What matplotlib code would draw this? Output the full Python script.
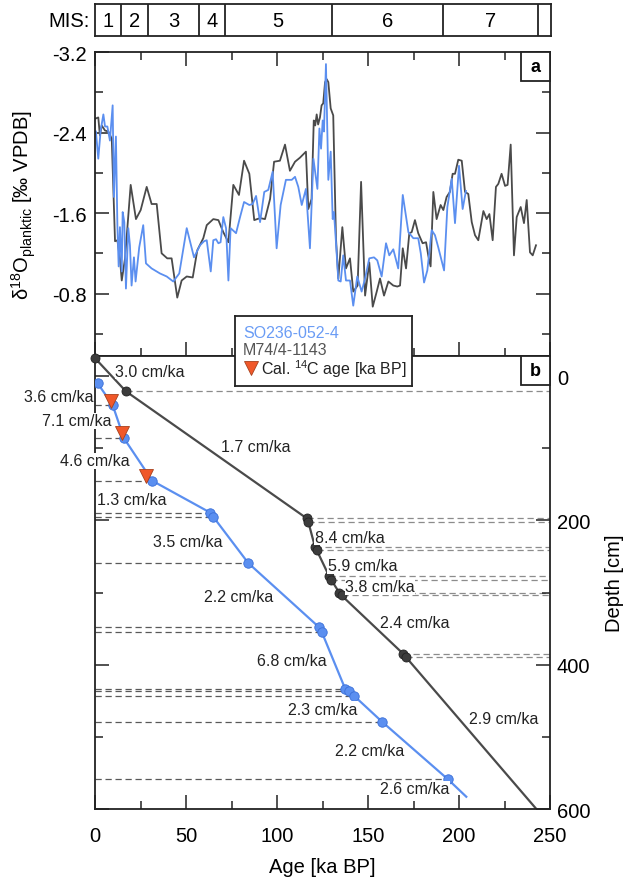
import matplotlib.pyplot as plt
from matplotlib.patches import Rectangle
from matplotlib.ticker import MultipleLocator, FixedLocator, FormatStrFormatter

plt.rcParams['font.family'] = ['Liberation Sans', 'DejaVu Sans']
plt.rcParams['mathtext.fontset'] = 'custom'
plt.rcParams['mathtext.rm'] = 'Liberation Sans'
plt.rcParams['mathtext.it'] = 'Liberation Sans:italic'
plt.rcParams['mathtext.bf'] = 'Liberation Sans:bold'
plt.rcParams['axes.unicode_minus'] = False

# --- MIS stages (boundaries in ka)
mis_bounds = [0, 14, 29, 57, 71, 130, 191, 243, 250]
mis_labels = ['1', '2', '3', '4', '5', '6', '7', '']

# --- panel a: d18O planktic records
m74_age = [0.5, 1.8, 2.7, 3.7, 5.5, 7.3, 9.2, 11.0, 12.3, 13.7, 14.7, 16.5, 19.6,
           22.5, 25.1, 28.4, 31.1, 33.9, 36.6, 39.7, 42.1, 45.2, 47.6, 50.4, 53.7,
           56.2, 59.5, 61.4, 65.0, 67.8, 70.5, 73.3, 76.0, 79.1, 81.9, 84.8, 87.5,
           90.7, 93.4, 96.2, 98.4, 101.6, 104.4, 107.1, 109.9, 112.6, 115.9, 117.2,
           119.0, 120.2, 121.0, 121.8, 122.6, 123.6, 124.5, 125.4, 126.4, 127.3,
           128.2, 129.5, 130.9, 132.4, 133.7, 135.9, 137.9, 140.1, 141.9, 144.3,
           146.2, 148.4, 150.7, 152.6, 154.8, 156.6, 158.8, 161.2, 163.9, 166.1,
           167.6, 169.1, 170.9, 172.7, 174.0, 175.8, 177.6, 180.0, 181.9, 183.1,
           184.4, 185.9, 187.7, 189.9, 191.4, 193.2, 195.0, 196.5, 197.8, 199.6,
           201.5, 203.3, 205.1, 207.0, 208.8, 210.6, 213.4, 215.2, 216.7, 218.5,
           220.3, 221.6, 223.4, 225.3, 226.7, 228.4, 230.2, 231.7, 233.9, 235.7,
           237.2, 239.0, 240.5, 242.3]
m74_d18o = [-2.54, -2.55, -2.37, -2.47, -2.42, -2.41, -2.34, -1.32, -1.33, -1.15,
            -0.93, -1.15, -1.88, -1.54, -1.63, -1.86, -1.69, -1.69, -1.20, -1.15,
            -1.15, -0.76, -0.93, -0.97, -0.96, -1.23, -1.35, -1.48, -1.54, -1.53,
            -1.41, -1.31, -1.88, -1.78, -2.12, -1.99, -1.53, -1.55, -1.54, -1.74,
            -2.11, -2.12, -2.28, -2.02, -2.11, -2.15, -2.21, -1.64, -1.74, -2.52,
            -2.47, -2.58, -2.48, -2.55, -2.67, -2.69, -2.90, -2.93, -2.90, -2.64,
            -2.57, -1.35, -0.95, -1.46, -1.05, -1.15, -0.82, -0.88, -1.91, -0.78,
            -1.11, -0.67, -0.82, -0.95, -0.78, -0.92, -0.88, -0.87, -0.88, -1.25,
            -1.05, -1.40, -1.41, -1.53, -1.40, -1.30, -1.31, -1.18, -1.07, -1.81,
            -1.54, -1.68, -1.63, -1.76, -1.81, -1.99, -1.99, -2.13, -2.12, -1.81,
            -1.79, -1.51, -1.38, -1.33, -1.62, -1.54, -1.59, -1.33, -1.86, -1.89,
            -1.99, -1.87, -1.88, -2.28, -1.18, -1.56, -1.66, -1.50, -1.73, -1.21,
            -1.18, -1.28]

so_age = [0.5, 1.8, 3.1, 4.6, 5.5, 6.8, 8.2, 9.7, 10.4, 11.5, 12.3, 13.0, 13.7,
          14.7, 15.2, 16.1, 17.0, 18.3, 19.2, 20.1, 21.4, 22.3, 24.3, 26.5, 28.0,
          31.1, 35.7, 39.4, 43.0, 46.3, 50.4, 54.4, 57.7, 59.9, 61.4, 63.6, 65.0,
          66.5, 67.8, 69.0, 70.5, 72.0, 73.3, 74.5, 77.5, 79.7, 81.9, 84.8, 86.6,
          88.5, 90.7, 93.0, 95.2, 97.6, 99.8, 102.0, 104.9, 108.1, 109.9, 111.7,
          113.6, 115.9, 118.1, 120.0, 122.2, 123.3, 124.2, 125.1, 125.8, 126.9,
          128.2, 129.5, 130.6, 131.3, 132.4, 133.7, 135.0, 136.4, 137.9, 140.1,
          141.9, 144.1, 146.5, 148.4, 150.7, 153.3, 155.1, 157.5, 159.9, 161.7,
          163.9, 166.6, 169.1, 172.2, 174.9, 177.6, 179.0, 180.8, 182.6, 185.0,
          186.8, 188.6, 191.8, 193.6, 196.0, 197.8, 200.0, 202.0, 203.8]
so_d18o = [-2.41, -2.14, -2.42, -2.58, -2.46, -2.46, -2.32, -2.67, -1.76, -2.36,
           -1.48, -1.07, -1.46, -1.02, -1.61, -1.51, -0.85, -1.45, -1.28, -0.88,
           -1.16, -0.92, -1.26, -1.48, -1.10, -1.05, -1.00, -0.97, -0.92, -1.00,
           -1.45, -1.16, -1.28, -1.32, -1.33, -1.02, -1.33, -1.34, -1.30, -1.31,
           -1.56, -1.45, -0.93, -1.45, -1.40, -1.56, -1.71, -1.68, -1.69, -1.77,
           -1.51, -1.81, -1.83, -2.01, -1.25, -1.68, -1.93, -1.93, -1.96, -1.86,
           -1.68, -1.84, -1.25, -2.14, -1.84, -2.44, -2.24, -2.52, -2.41, -3.08,
           -1.93, -2.21, -1.54, -1.61, -1.31, -0.93, -0.92, -1.18, -0.93, -0.93,
           -0.68, -0.97, -0.82, -0.95, -1.15, -1.16, -1.13, -0.97, -1.30, -1.18,
           -1.24, -1.05, -1.78, -1.41, -1.35, -1.35, -1.20, -0.91, -1.03, -1.43,
           -1.38, -1.26, -1.03, -1.66, -1.94, -1.50, -2.07, -1.64, -1.82]

# --- panel b: age-depth models
m74_tie_age = [0.0, 17.0, 116.3, 117.2, 120.9, 121.8, 128.6, 129.7, 134.2, 135.5,
               169.4, 170.7]
m74_tie_depth = [-25, 21, 197, 202, 237, 241, 277, 282, 300, 304, 385, 389]
m74_end = (242.5, 600)

so_tie_age = [1.5, 9.7, 15.9, 31.5, 63.2, 65.0, 84.2, 123.1, 124.5, 137.4, 139.6,
              142.3, 157.7, 194.0]
so_tie_depth = [10, 40, 86, 145, 189, 195, 259, 348, 354, 433, 437, 443, 479, 559]
so_end = (204.0, 583)

c14_age = [8.8, 14.8, 28.0]
c14_depth = [34, 79, 138]

rate_text = ['3.0 cm/ka', '1.7 cm/ka', '8.4 cm/ka', '5.9 cm/ka', '3.8 cm/ka',
             '2.4 cm/ka', '2.9 cm/ka',
             '3.6 cm/ka', '7.1 cm/ka', '4.6 cm/ka', '1.3 cm/ka', '3.5 cm/ka',
             '2.2 cm/ka', '6.8 cm/ka', '2.3 cm/ka', '2.2 cm/ka', '2.6 cm/ka']
rate_age = [30.2, 88.2, 139.8, 147.0, 156.6, 175.8, 224.7,
            -20.0, -10.0, 0.0, 20.3, 51.1, 78.8, 108.2, 125.0, 150.8, 175.5]
rate_depth = [-7, 98, 223, 263, 292, 341, 474,
              28, 62, 117, 171, 229, 306, 394, 462, 519, 572]

BLUE = '#5b8ff0'
BLUE_EDGE = '#3a6fd8'
GRAY = '#4a4a4a'
ORANGE = '#f0582a'
FRAME = '#222222'

W, H = 627, 887
fig = plt.figure(figsize=(W / 100, H / 100), dpi=100)


def px_rect(x0, y0, x1, y1):
    return [x0 / W, 1 - y1 / H, (x1 - x0) / W, (y1 - y0) / H]


ax_mis = fig.add_axes(px_rect(95, 5, 551, 37))
ax_a = fig.add_axes(px_rect(95, 53, 550, 357))
ax_b = fig.add_axes(px_rect(95, 357, 550, 810))

# ---------- MIS bar
ax_mis.set_xlim(0, 250)
ax_mis.set_ylim(0, 1)
ax_mis.set_xticks([])
ax_mis.set_yticks([])
for b in mis_bounds[1:-1]:
    ax_mis.axvline(b, color=FRAME, lw=1.3)
for i, lab in enumerate(mis_labels):
    ax_mis.text((mis_bounds[i] + mis_bounds[i + 1]) / 2, 0.47, lab,
                ha='center', va='center', fontsize=14.5)
ax_mis.text(-3, 0.47, 'MIS:', ha='right', va='center', fontsize=14.5)
for s in ax_mis.spines.values():
    s.set_linewidth(1.3)
    s.set_color(FRAME)

# ---------- panel a
ax_a.plot(m74_age, m74_d18o, color=GRAY, lw=1.3)
ax_a.plot(so_age, so_d18o, color=BLUE, lw=1.3)
ax_a.set_xlim(0, 250)
ax_a.set_ylim(-0.18, -3.2)
ax_a.xaxis.set_major_locator(MultipleLocator(50))
ax_a.xaxis.set_minor_locator(MultipleLocator(25))
ax_a.yaxis.set_major_locator(FixedLocator([-3.2, -2.4, -1.6, -0.8]))
ax_a.yaxis.set_minor_locator(FixedLocator([-2.8, -2.0, -1.2, -0.4]))
ax_a.yaxis.set_major_formatter(FormatStrFormatter('%.1f'))
ax_a.tick_params(which='both', direction='in', top=True, bottom=True,
                 left=True, right=True, labelbottom=False, color=FRAME,
                 width=1.1, labelsize=14.5, pad=6)
ax_a.tick_params(which='major', length=10)
ax_a.tick_params(which='minor', length=5.5)
ax_a.set_ylabel(r'δ$^{18}$O$_{\mathrm{planktic}}$ [‰ VPDB]', fontsize=14.5)
ax_a.yaxis.set_label_coords(-0.125, 0.5)

# ---------- panel b
for a, d in zip(so_tie_age[1:], so_tie_depth[1:]):
    ax_b.plot([0, a], [d, d], color='0.35', lw=0.9, dashes=(5, 3), zorder=1)
for a, d in zip(m74_tie_age[1:], m74_tie_depth[1:]):
    ax_b.plot([a, 250], [d, d], color='0.55', lw=0.9, dashes=(5, 3), zorder=1)

ax_b.plot(m74_tie_age + [m74_end[0]], m74_tie_depth + [m74_end[1]],
          color=GRAY, lw=1.6, zorder=2)
ax_b.plot(m74_tie_age, m74_tie_depth, 'o', ms=6.5, mfc='#3c3c3c', mec='#222222',
          mew=0.6, zorder=3, clip_on=False)
ax_b.plot(so_tie_age + [so_end[0]], so_tie_depth + [so_end[1]],
          color=BLUE, lw=1.6, zorder=2)
ax_b.plot(so_tie_age, so_tie_depth, 'o', ms=6.8, mfc=BLUE, mec=BLUE_EDGE,
          mew=0.6, zorder=3)
ax_b.plot(c14_age, c14_depth, 'v', ms=10.5, mfc=ORANGE, mec='#a8401c',
          mew=0.6, zorder=4)

for t, a, d in zip(rate_text, rate_age, rate_depth):
    ax_b.text(a, d, t, ha='center', va='center', fontsize=11.5, color='#222222',
              zorder=5, bbox=dict(fc='white', ec='none', pad=0.3))

ax_b.set_xlim(0, 250)
ax_b.set_ylim(600, -28)
ax_b.xaxis.set_major_locator(MultipleLocator(50))
ax_b.xaxis.set_minor_locator(MultipleLocator(25))
ax_b.yaxis.set_major_locator(FixedLocator([0, 200, 400, 600]))
ax_b.yaxis.set_minor_locator(FixedLocator([100, 300, 500]))
ax_b.tick_params(which='both', direction='in', top=False, bottom=True,
                 left=True, right=True, labelleft=False, labelright=True,
                 color=FRAME, width=1.1, labelsize=14.5)
ax_b.tick_params(which='major', length=10)
ax_b.tick_params(which='minor', length=5.5)
ax_b.tick_params(axis='x', pad=12)
ax_b.tick_params(axis='y', pad=5)
ax_b.set_xlabel('Age [ka BP]', fontsize=14.5)
ax_b.xaxis.set_label_coords(0.5, -0.106)
ax_b.yaxis.set_label_position('right')
ax_b.set_ylabel('Depth [cm]', fontsize=14.5)
ax_b.yaxis.set_label_coords(1.121, 0.5)

for ax in (ax_a, ax_b):
    for s in ax.spines.values():
        s.set_linewidth(1.3)
        s.set_color(FRAME)

# panel letters
for ax, lab, hpx in ((ax_a, 'a', 304), (ax_b, 'b', 453)):
    bw, bh = 29 / 455, 29 / hpx
    ax.add_patch(Rectangle((1 - bw, 1 - bh), bw, bh, transform=ax.transAxes,
                           fc='white', ec=FRAME, lw=1.3, zorder=6, clip_on=False))
    ax.text(1 - bw / 2, 1 - bh / 2, lab, transform=ax.transAxes, ha='center',
            va='center', fontsize=13, fontweight='bold', zorder=7)

# ---------- legend box
ax_leg = fig.add_axes(px_rect(235, 317, 412, 387))
ax_leg.set_xlim(0, 1)
ax_leg.set_ylim(0, 1)
ax_leg.set_xticks([])
ax_leg.set_yticks([])
for s in ax_leg.spines.values():
    s.set_linewidth(1.3)
    s.set_color(FRAME)
ax_leg.text(0.045, 0.765, 'SO236-052-4', color='#6a9cf5', fontsize=11.5,
            ha='left', va='center')
ax_leg.text(0.045, 0.52, 'M74/4-1143', color='#555555', fontsize=11.5,
            ha='left', va='center')
ax_leg.plot([0.089], [0.26], 'v', ms=10.5, mfc=ORANGE, mec='#a8401c', mew=0.6)
ax_leg.text(0.145, 0.255, r'Cal. $^{14}$C age [ka BP]', color='#222222',
            fontsize=11.5, ha='left', va='center')

fig.savefig('out.png', dpi=100)
